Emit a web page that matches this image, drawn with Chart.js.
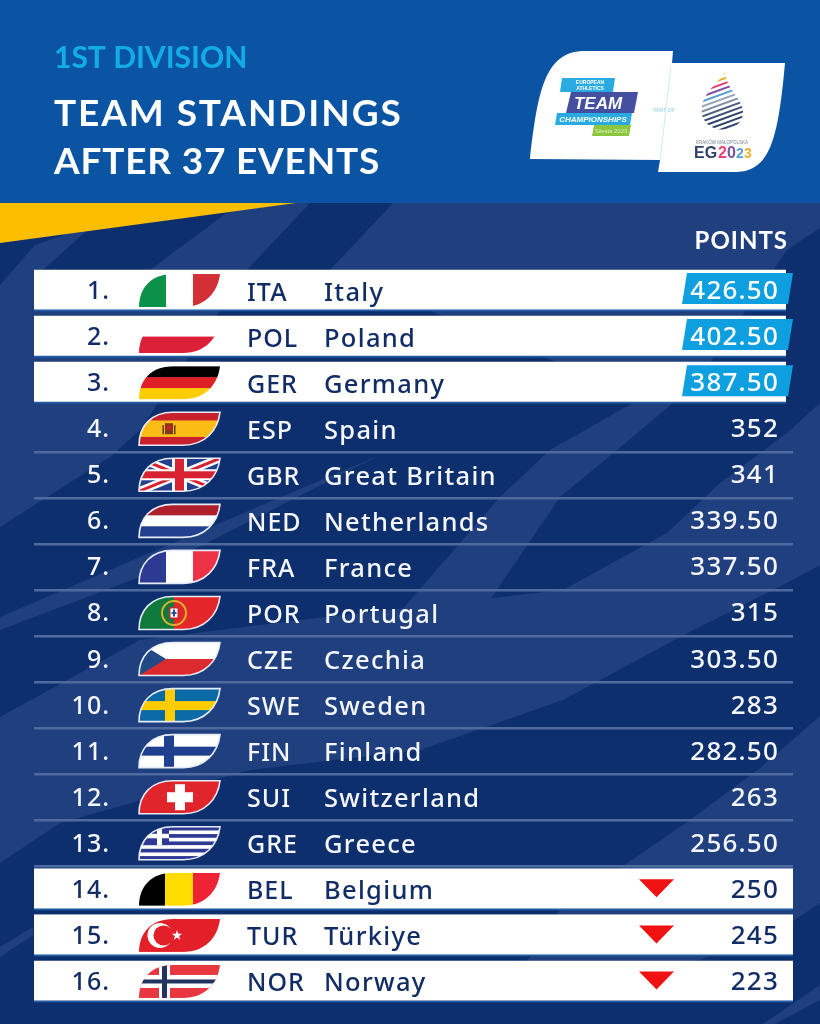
<!DOCTYPE html>
<html>
<head>
<meta charset="utf-8">
<title>Team standings</title>
<script src="https://cdn.jsdelivr.net/npm/chart.js@4"></script>
<style>
  html, body { margin: 0; padding: 0; background: #0e2f6e; }
  canvas { display: block; }
</style>
</head>
<body>
<canvas id="standings" width="820" height="1024"></canvas>
<script>
// table data
var ranks = ["1.","2.","3.","4.","5.","6.","7.","8.","9.","10.","11.","12.","13.","14.","15.","16."];
var codes = ["ITA","POL","GER","ESP","GBR","NED","FRA","POR","CZE","SWE","FIN","SUI","GRE","BEL","TUR","NOR"];
var countries = ["Italy","Poland","Germany","Spain","Great Britain","Netherlands","France","Portugal","Czechia","Sweden","Finland","Switzerland","Greece","Belgium","Türkiye","Norway"];
var points = [426.5,402.5,387.5,352,341,339.5,337.5,315,303.5,283,282.5,263,256.5,250,245,223];
var zones = ["top","top","top","","","","","","","","","","","down","down","down"];

var FONT = '"Noto Sans"';
var NAVY = "#122c66";
var DARK = "#0e2f6e";
var LIGHT = "#1f3f7f";

function poly(c, pts, fill) {
  c.beginPath();
  pts.forEach(function (p, i) { i ? c.lineTo(p[0], p[1]) : c.moveTo(p[0], p[1]); });
  c.closePath();
  c.fillStyle = fill;
  c.fill();
}

function text(c, s, x, y, font, color, align, spacing) {
  c.font = font;
  c.fillStyle = color;
  c.textAlign = align || "left";
  c.textBaseline = "alphabetic";
  c.letterSpacing = spacing || "0px";
  c.fillText(s, x, y);
  c.letterSpacing = "0px";
}

// header, stripes and wedge behind the table
function drawBackdrop(c) {
  c.fillStyle = DARK;
  c.fillRect(0, 202, 820, 822);
  var bands = [
    [[0,285],[35,245],[93,225],[43,270],[60,300],[150,270],[240,203],[310,203],[247,270],[140,430],[110,457],[0,527]],
    [[393,203],[820,203],[820,228],[787,250],[697,382],[673,403],[633,403],[600,380],[330,270]],
    [[633,403],[673,403],[617,450],[560,497],[490,600],[400,612],[500,497],[550,450]],
    [[0,617],[140,557],[380,455],[140,577],[0,630]],
    [[820,403],[787,433],[720,483],[667,533],[563,590],[300,620],[140,640],[0,717],[0,863],[60,823],[250,770],[420,750],[563,700],[680,637],[787,583],[820,565]],
    [[820,716],[760,768],[690,820],[623,866],[560,910],[500,1002],[700,960],[793,921],[820,903]],
    [[820,985],[820,1000],[775,1024],[763,1024]],
    [[0,947],[33,927],[33,935],[0,957]]
  ];
  bands.forEach(function (b) { poly(c, b, LIGHT); });
  c.fillStyle = "#0a54a3";
  c.fillRect(0, 0, 820, 203);
  poly(c, [[0,203],[296,203],[0,243]], "#fdbe00");

  text(c, "1ST DIVISION", 54, 68, 'bold 30px Lato', "#12ade6");
  text(c, "TEAM STANDINGS", 54, 126, 'bold 37px Lato', "#ffffff", "left", "1.9px");
  text(c, "AFTER 37 EVENTS", 54, 174, 'bold 37px Lato', "#ffffff", "left", "0.8px");
  text(c, "POINTS", 788, 249, 'bold 24px Lato', "#ffffff", "right", "1px");
  drawLogos(c);
}

function drawLogos(c) {
  c.fillStyle = "#ffffff";
  c.beginPath();
  c.moveTo(530, 159);
  c.bezierCurveTo(538, 90, 545, 51, 585, 51);
  c.lineTo(673, 51);
  c.lineTo(672, 63);
  c.lineTo(785, 63);
  c.bezierCurveTo(778, 140, 770, 172, 735, 172);
  c.lineTo(658, 172);
  c.lineTo(660, 160);
  c.closePath();
  c.fill();
  c.strokeStyle = "#cfe9f7";
  c.lineWidth = 1;
  c.beginPath(); c.moveTo(671, 66); c.lineTo(660, 160); c.stroke();

  poly(c, [[562,78],[615,78],[613,92],[560,92]], "#29abe2");
  text(c, "EUROPEAN", 590, 84, 'bold 5px "Liberation Sans"', "#ffffff", "center");
  text(c, "ATHLETICS", 590, 90, 'bold 5px "Liberation Sans"', "#ffffff", "center");
  poly(c, [[571,92],[638,92],[634,113],[566,113]], "#44509f");
  text(c, "TEAM", 598, 109, 'italic bold 17px "Liberation Sans"', "#ffffff", "center");
  poly(c, [[557,113],[632,113],[630,125],[555,125]], "#29abe2");
  text(c, "CHAMPIONSHIPS", 593, 122, 'italic bold 8px "Liberation Sans"', "#ffffff", "center");
  poly(c, [[594,125],[631,125],[629,136],[592,136]], "#8dc63f");
  text(c, "Silesia 2023", 611, 133, '6px "Liberation Sans"', "#d8eec0", "center");
  text(c, "PART OF", 664, 112, '5px "Liberation Sans"', "#8fd0ee", "center");

  // games emblem
  c.save();
  c.beginPath();
  c.moveTo(725, 73);
  c.bezierCurveTo(727, 90, 744, 100, 743, 113);
  c.bezierCurveTo(742, 132, 712, 136, 703, 118);
  c.bezierCurveTo(697, 100, 712, 88, 725, 73);
  c.closePath();
  c.clip();
  var stripeCols = ["#e8b230","#e8b230","#e6437a","#7c4fa0","#5aa0d0","#9aa5b8","#7f8ea8","#4c5f82","#3d5078","#2e4268","#2e4268","#2e4268","#2e4268"];
  c.lineWidth = 2;
  stripeCols.forEach(function (col, i) {
    c.strokeStyle = col;
    c.beginPath();
    c.moveTo(695, 84 + i * 5);
    c.lineTo(750, 64 + i * 5);
    c.stroke();
  });
  c.restore();
  text(c, "KRAKÓW MAŁOPOLSKA", 722, 144, '4.5px "Liberation Sans"', "#7a7f90", "center");
  text(c, "EG", 694, 158, 'bold 16px "Liberation Sans"', "#2e4268");
  text(c, "2", 718, 158, 'bold 16px "Liberation Sans"', "#e6437a");
  text(c, "0", 727, 158, 'bold 16px "Liberation Sans"', "#7c4fa0");
  text(c, "2", 736, 158, 'bold 14px "Liberation Sans"', "#5aa0d0");
  text(c, "3", 744, 158, 'bold 14px "Liberation Sans"', "#e8b230");
}

// flags, in a 81 x 33 box
var FW = 81, FH = 33;

function vbars(c, cols, stops) {
  cols.forEach(function (col, i) {
    c.fillStyle = col;
    c.fillRect(stops[i], 0, stops[i + 1] - stops[i], FH);
  });
}
function hbars(c, cols) {
  var h = FH / cols.length;
  cols.forEach(function (col, i) {
    c.fillStyle = col;
    c.fillRect(0, i * h, FW, h + 0.5);
  });
}
function cross(c, col, x, w, y, h) {
  c.fillStyle = col;
  c.fillRect(x, 0, w, FH);
  c.fillRect(0, y, FW, h);
}

var flags = {
  ITA: function (c) { vbars(c, ["#0b9248","#ffffff","#d22f37"], [0,27,54,FW]); },
  POL: function (c) { hbars(c, ["#ffffff","#dd2039"]); },
  GER: function (c) { hbars(c, ["#000000","#dd1f26","#ffcc00"]); },
  ESP: function (c) {
    hbars(c, ["#c8202c","#fbbd15","#fbbd15","#c8202c"]);
    c.fillStyle = "#7a3a1c"; c.fillRect(26, 11, 8, 11);
    c.fillStyle = "#c8202c"; c.fillRect(27.5, 13, 5, 5);
    c.fillStyle = "#5c3a20"; c.fillRect(23.5, 13, 1.5, 9); c.fillRect(35, 13, 1.5, 9);
  },
  GBR: function (c) {
    c.fillStyle = "#23408f"; c.fillRect(0, 0, FW, FH);
    c.strokeStyle = "#ffffff"; c.lineWidth = 8;
    c.beginPath(); c.moveTo(0, 0); c.lineTo(FW, FH); c.moveTo(FW, 0); c.lineTo(0, FH); c.stroke();
    c.strokeStyle = "#d92231"; c.lineWidth = 3;
    c.beginPath(); c.moveTo(0, 0); c.lineTo(FW, FH); c.moveTo(FW, 0); c.lineTo(0, FH); c.stroke();
    cross(c, "#ffffff", 33, 15, 11, 11);
    cross(c, "#d92231", 36, 9, 13, 7);
  },
  NED: function (c) { hbars(c, ["#ae1f2b","#ffffff","#22408f"]); },
  FRA: function (c) { vbars(c, ["#2d3a94","#ffffff","#ef3346"], [0,27,54,FW]); },
  POR: function (c) {
    vbars(c, ["#0f7a3c","#e3262a"], [0,35,FW]);
    c.beginPath(); c.arc(35, 16.5, 12, 0, Math.PI * 2);
    c.strokeStyle = "#d9b32a"; c.lineWidth = 2; c.stroke();
    c.fillStyle = "#c4262c"; c.fillRect(30, 10.5, 10, 12);
    c.fillStyle = "#ffffff"; c.fillRect(31.5, 12, 7, 9);
    c.fillStyle = "#2a4b9b"; c.fillRect(34, 13, 2, 7); c.fillRect(32.5, 15.5, 5, 2);
  },
  CZE: function (c) {
    hbars(c, ["#ffffff","#dd2a2f"]);
    poly(c, [[0,0],[27,16.5],[0,33]], "#1f4a86");
  },
  SWE: function (c) {
    c.fillStyle = "#0a6aa8"; c.fillRect(0, 0, FW, FH);
    cross(c, "#fecc00", 26, 10, 12.5, 9);
  },
  FIN: function (c) {
    c.fillStyle = "#ffffff"; c.fillRect(0, 0, FW, FH);
    cross(c, "#1f3f8f", 25, 10, 12, 9);
  },
  SUI: function (c) {
    c.fillStyle = "#e0242b"; c.fillRect(0, 0, FW, FH);
    c.fillStyle = "#ffffff";
    c.fillRect(28, 11.5, 26, 10);
    c.fillRect(36, 3.5, 10, 26);
  },
  GRE: function (c) {
    var cols = [];
    for (var i = 0; i < 9; i++) cols.push(i % 2 ? "#ffffff" : "#2f3a94");
    hbars(c, cols);
    c.fillStyle = "#2f3a94"; c.fillRect(0, 0, 30, 18.3);
    c.fillStyle = "#ffffff"; c.fillRect(18, 0, 5, 18.3); c.fillRect(0, 7, 30, 4.5);
  },
  BEL: function (c) { vbars(c, ["#000000","#ffdd00","#ee2436"], [0,26,54,FW]); },
  TUR: function (c) {
    c.fillStyle = "#e3202a"; c.fillRect(0, 0, FW, FH);
    c.beginPath(); c.arc(21, 16.5, 12.5, 0, Math.PI * 2); c.fillStyle = "#ffffff"; c.fill();
    c.beginPath(); c.arc(24.5, 16.5, 10, 0, Math.PI * 2); c.fillStyle = "#e3202a"; c.fill();
    var star = [];
    for (var i = 0; i < 10; i++) {
      var r = i % 2 ? 2.2 : 5.4, a = -Math.PI / 2 + i * Math.PI / 5;
      star.push([38 + r * Math.cos(a), 16.5 + r * Math.sin(a)]);
    }
    poly(c, star, "#ffffff");
  },
  NOR: function (c) {
    c.fillStyle = "#e8373f"; c.fillRect(0, 0, FW, FH);
    cross(c, "#ffffff", 20, 11, 10, 13);
    cross(c, "#22335f", 23, 5, 14.5, 4);
  }
};

function drawFlag(c, code, x, cy, outlined) {
  var shape = new Path2D();
  shape.moveTo(0, FH);
  shape.bezierCurveTo(0, 14, 12, 0, 34, 0);
  shape.lineTo(FW, 0);
  shape.bezierCurveTo(79, 18, 66, FH, 44, FH);
  shape.closePath();
  c.save();
  c.translate(x, cy - FH / 2);
  c.save();
  c.clip(shape);
  flags[code](c);
  c.restore();
  if (outlined) {
    c.strokeStyle = "#e6ecf6";
    c.lineWidth = 1.6;
    c.stroke(shape);
  }
  c.restore();
}

var backdrop = {
  id: "backdrop",
  beforeDraw: function (chart) { drawBackdrop(chart.ctx); }
};

// row content, placed on the y scale
var rowContent = {
  id: "rowContent",
  afterDatasetsDraw: function (chart) {
    var c = chart.ctx, y = chart.scales.y;
    var body = '500 25px ' + FONT;
    ranks.forEach(function (rank, i) {
      var cy = y.getPixelForValue(i);
      var onWhite = zones[i] !== "";
      var ink = onWhite ? NAVY : "#f4f6fb";
      text(c, rank, 110, cy + 8.5, body, ink, "right", "1px");
      drawFlag(c, codes[i], 139, cy, !onWhite);
      text(c, codes[i], 247, cy + 10, body, ink, "left", "1px");
      text(c, countries[i], 324, cy + 10, '500 25.5px ' + FONT, ink, "left", "1.3px");
      if (zones[i] === "top") {
        poly(c, [[687,cy-17.5],[793,cy-17.5],[788,cy+13.5],[682,cy+13.5]], "#0d9fdf");
      }
      if (zones[i] === "down") {
        poly(c, [[639,cy-10],[674,cy-10],[656.5,cy+8]], "#f01212");
      }
      var v = points[i];
      var label = Number.isInteger(v) ? String(v) : v.toFixed(2);
      text(c, label, 779, cy + 8.5, '500 26px ' + FONT, zones[i] === "top" ? "#ffffff" : ink, "right", "1.2px");
    });
  }
};

var ROW_END = { top: 0.9908, down: 1 };

new Chart(document.getElementById("standings"), {
  type: "bar",
  plugins: [backdrop, rowContent],
  data: {
    labels: countries,
    datasets: [
      {
        label: "Row bands",
        data: zones.map(function (z) { return z ? [0, ROW_END[z]] : null; }),
        xAxisID: "x",
        backgroundColor: "#ffffff",
        borderColor: "#1f5fa8",
        borderWidth: { top: 0, left: 0, right: 0, bottom: 2 },
        borderSkipped: false,
        inflateAmount: 0,
        barPercentage: 0.915,
        categoryPercentage: 1
      },
      {
        label: "Points",
        data: points,
        xAxisID: "pts",
        backgroundColor: "rgba(0,0,0,0)"
      }
    ]
  },
  options: {
    indexAxis: "y",
    responsive: false,
    animation: false,
    layout: { padding: { left: 34, right: 27, top: 267.5, bottom: 19.5 } },
    datasets: { bar: { grouped: false } },
    plugins: { legend: { display: false }, tooltip: { enabled: false } },
    scales: {
      x: { display: false, min: 0, max: 1 },
      pts: { display: false, min: 0, max: 500 },
      y: {
        ticks: { display: false },
        border: { display: false },
        grid: {
          offset: true,
          drawTicks: false,
          lineWidth: 2.5,
          color: function (ctx) {
            var i = ctx.index;
            if (i === undefined || i <= 3 || i > 13) return "rgba(0,0,0,0)";
            return "#4f6a9e";
          }
        }
      }
    }
  }
});
</script>
</body>
</html>
